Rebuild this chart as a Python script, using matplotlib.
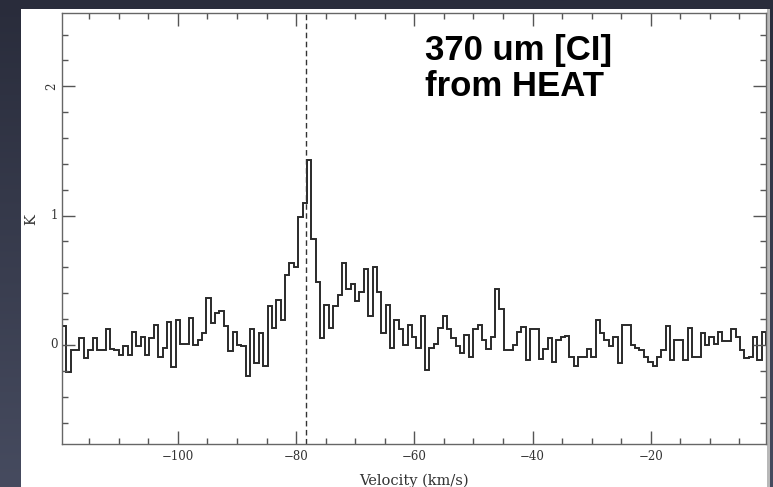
import matplotlib.pyplot as plt
import numpy as np
from matplotlib.patches import Rectangle
from matplotlib.ticker import MultipleLocator
from matplotlib.colors import LinearSegmentedColormap

# [CI] 370 um spectrum, antenna temperature (K) per channel
t_blue = [0.15, -0.21, -0.04, -0.04, 0.05, -0.10, -0.04, 0.05, -0.04, -0.04,
          0.12, -0.03, -0.04, -0.08, -0.01, -0.08, 0.10, -0.01, 0.06, -0.08]
t_wing = [0.05, 0.155, -0.09, -0.02, 0.18, -0.17, 0.19, 0.01, 0.01, 0.21,
          0.0, 0.04, 0.09, 0.36, 0.17, 0.25, 0.26, 0.15, -0.05, 0.10,
          0.0, -0.01, -0.24]
t_line = [0.12, -0.14, 0.09, -0.16, 0.30, 0.13, 0.35, 0.19, 0.54, 0.63,
          0.60, 0.99, 1.10, 1.43, 0.82, 0.49, 0.05, 0.31, 0.13, 0.30,
          0.39, 0.63, 0.43, 0.47, 0.34, 0.41, 0.59, 0.22, 0.60, 0.41,
          0.09, 0.31, -0.02, 0.19, 0.12, 0.0, 0.155, 0.06, -0.02, 0.22,
          -0.19, -0.02, 0.01, 0.13, 0.22, 0.12, 0.05, -0.01, -0.06, 0.08,
          -0.09, 0.12]
t_red = [0.155, 0.04, -0.03, 0.06, 0.43, 0.28, -0.04, -0.04, 0.0, 0.10,
         0.14, -0.12, 0.12, 0.12, -0.11, -0.03, 0.05, -0.13, 0.04, 0.06,
         0.07, -0.09, -0.16, -0.09, -0.09, -0.03, -0.09, 0.19, 0.09, 0.04,
         -0.01, 0.06, -0.14, 0.155, 0.155, 0.0, -0.02, -0.04, -0.09, -0.13,
         -0.16, -0.09, -0.04, 0.15, -0.12, 0.04, 0.04, -0.12, 0.13, -0.09,
         -0.09, 0.09, 0.0, 0.06, 0.01, 0.10, 0.03, 0.03, 0.12, 0.06,
         -0.04, -0.10, -0.09, 0.06, -0.12, 0.10]

v_start = -119.6   # left edge of first channel (km/s)
dv = 0.74          # channel width (km/s)
v_sys = -78.4      # marked velocity

tmb = np.array(t_blue + t_wing + t_line + t_red)
edges = v_start + dv * np.arange(len(tmb) + 1)

W, H = 773, 487
fig = plt.figure(figsize=(W / 100, H / 100), dpi=100)

# dark slide background
bg = fig.add_axes([0, 0, 1, 1], zorder=-10)
cmap = LinearSegmentedColormap.from_list('slide', ['#292c3b', '#464b5f'])
bg.imshow(np.linspace(0, 1, 256).reshape(-1, 1), aspect='auto', cmap=cmap,
          extent=[0, 1, 0, 1], origin='upper')
bg.axis('off')

# white plot panel
fig.patches.append(Rectangle((21 / W, 0), 746 / W, 478 / H, transform=fig.transFigure,
                             facecolor='white', edgecolor='none', zorder=-5))
fig.patches.append(Rectangle((767 / W, 0), 3 / W, 478 / H, transform=fig.transFigure,
                             facecolor='#b8b8b8', edgecolor='none', zorder=-5))

ax = fig.add_axes([62 / W, 43 / H, 704 / W, 431 / H])
ax.set_facecolor('white')

ax.stairs(tmb, edges, color='#2a2a2a', lw=1.4)
ax.axvline(v_sys, color='#333333', ls=(0, (4, 2.5)), lw=1)

ax.set_xlim(-119.6, -0.5)
ax.set_ylim(-0.766, 2.567)
ax.xaxis.set_major_locator(MultipleLocator(20))
ax.xaxis.set_minor_locator(MultipleLocator(5))
ax.yaxis.set_major_locator(MultipleLocator(1))
ax.yaxis.set_minor_locator(MultipleLocator(0.2))

ax.tick_params(which='both', direction='in', top=True, right=True,
               color='#555555', labelcolor='#333333', labelsize=8.5)
ax.tick_params(which='major', length=9.5, width=1)
ax.tick_params(which='minor', length=4.3, width=1)
ax.tick_params(axis='x', pad=4)
ax.tick_params(axis='y', pad=3)
for sp in ax.spines.values():
    sp.set_color('#666666')
    sp.set_linewidth(1)

for lab in ax.get_xticklabels() + ax.get_yticklabels():
    lab.set_family('DejaVu Serif')
for lab in ax.get_yticklabels():
    if lab.get_text() == '2':
        lab.set_rotation(90)
    lab.set_va('center')

ax.set_xlabel('Velocity (km/s)', family='DejaVu Serif', fontsize=10.5,
              color='#333333', labelpad=8)
ax.set_ylabel('K', family='DejaVu Serif', fontsize=10.5, color='#333333',
              va='center')
ax.yaxis.set_label_coords(-31 / 704, 0.52)

fig.text(425 / W, 1 - 34 / H, '370 um [CI]\nfrom HEAT', family='Liberation Sans',
         fontsize=25, fontweight='bold', color='black', ha='left', va='top',
         linespacing=1.1)

fig.savefig('out.png', dpi=100)
